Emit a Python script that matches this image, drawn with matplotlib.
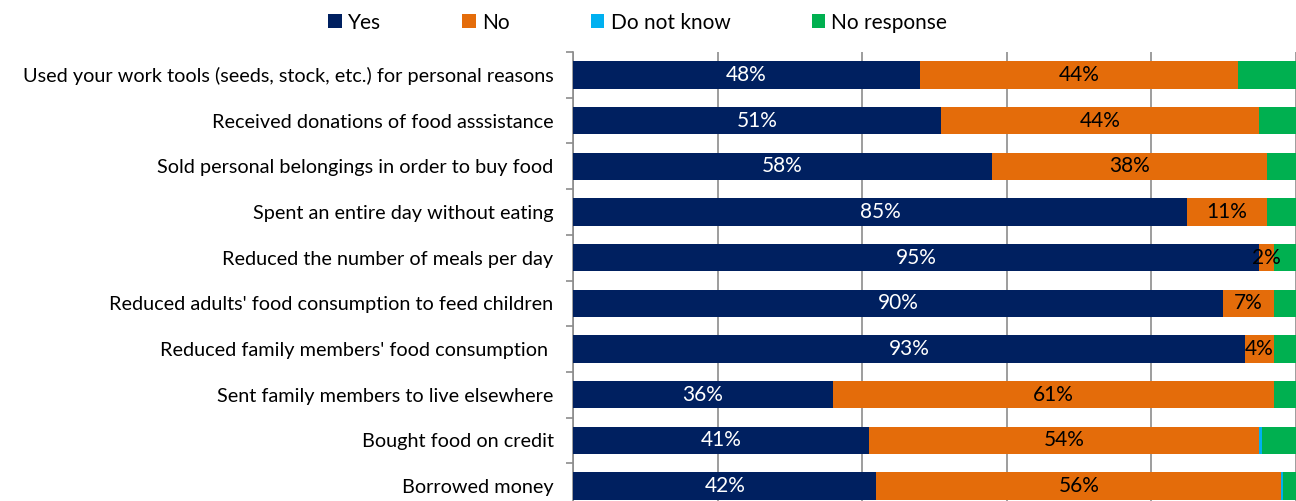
import numpy as np
import matplotlib.pyplot as plt
from matplotlib.patches import Patch
from matplotlib.ticker import MultipleLocator

plt.rcParams['font.family'] = ['Lato', 'DejaVu Sans']

# coping strategies, top to bottom
categories = [
    "Used your work tools (seeds, stock, etc.) for personal reasons",
    "Received donations of food asssistance",
    "Sold personal belongings in order to buy food",
    "Spent an entire day without eating",
    "Reduced the number of meals per day",
    "Reduced adults' food consumption to feed children",
    "Reduced family members' food consumption ",
    "Sent family members to live elsewhere",
    "Bought food on credit",
    "Borrowed money",
]
yes_pct = [48, 51, 58, 85, 95, 90, 93, 36, 41, 42]
no_pct = [44, 44, 38, 11, 2, 7, 4, 61, 54, 56]
dont_know_pct = [0, 0, 0, 0, 0, 0, 0, 0, 0.3, 0.3]
no_response_pct = [8, 5, 4, 4, 3, 3, 3, 3, 4.7, 1.7]

series = ["Yes", "No", "Do not know", "No response"]
colors = ["#002060", "#E46C0A", "#00B0F0", "#00B050"]

fig = plt.figure(figsize=(12.96, 5.01), dpi=100)
# plot area runs a little past the bottom edge of the figure
ax = fig.add_axes([573 / 1296, -8 / 501, 722.5 / 1296, 457 / 501])

y = np.arange(len(categories))
left = np.zeros(len(categories))
for vals, col in zip([yes_pct, no_pct, dont_know_pct, no_response_pct], colors):
    vals = np.array(vals, dtype=float)
    ax.barh(y, vals, left=left, height=0.6, color=col, zorder=3)
    left += vals

# value labels inside the Yes and No segments
for i in range(len(categories)):
    ax.text(yes_pct[i] / 2, y[i], f"{yes_pct[i]}%", ha="center", va="center",
            color="white", fontsize=15, zorder=4)
    ax.text(yes_pct[i] + no_pct[i] / 2, y[i], f"{no_pct[i]}%", ha="center",
            va="center", color="black", fontsize=15, zorder=4)

ax.set_xlim(0, 100)
ax.set_ylim(len(categories) - 0.5, -0.5)
ax.xaxis.set_major_locator(MultipleLocator(20))
ax.grid(axis="x", color="#8c8c8c", linewidth=1.2, zorder=0)
ax.tick_params(axis="x", length=0, labelbottom=False)

ax.set_yticks(y)
ax.set_yticklabels(categories, fontsize=14.3)
ax.set_yticks(np.arange(-0.5, len(categories), 1), minor=True)
ax.tick_params(axis="y", which="major", length=0, pad=14)
ax.tick_params(axis="y", which="minor", length=5, color="#8c8c8c", width=1.2)

for s in ["top", "right", "bottom"]:
    ax.spines[s].set_visible(False)
ax.spines["left"].set_color("#8c8c8c")
ax.spines["left"].set_linewidth(1.2)

handles = [Patch(facecolor=c, label=s) for s, c in zip(series, colors)]
fig.legend(handles=handles, loc="upper center", bbox_to_anchor=(0.492, 1.012),
           ncol=4, frameon=False, fontsize=15, handlelength=0.65,
           handleheight=0.65, handletextpad=0.3, columnspacing=3.9)

fig.savefig("out.png", dpi=100)
